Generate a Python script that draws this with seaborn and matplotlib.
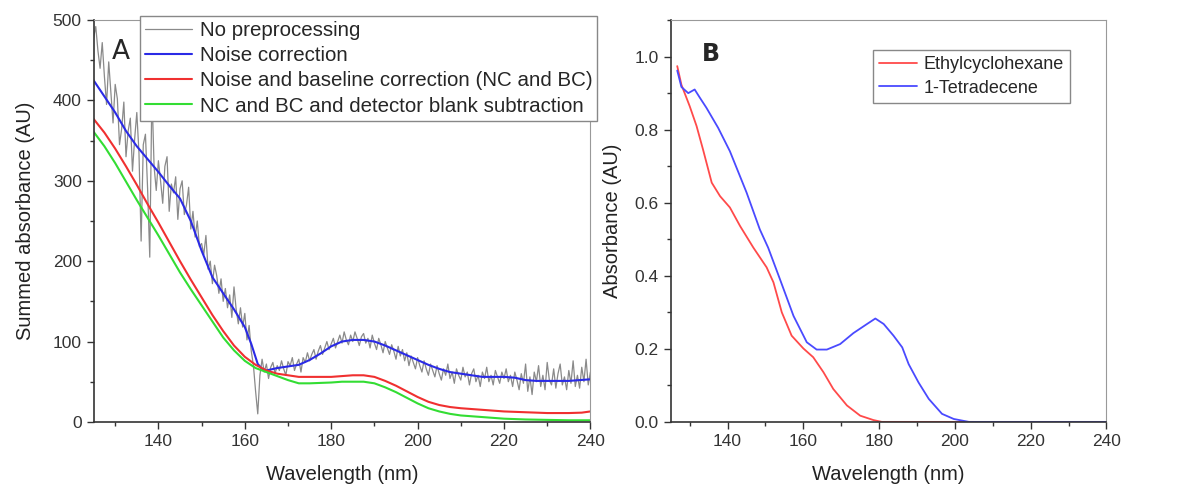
import numpy as np
import pandas as pd
import matplotlib
matplotlib.use("Agg")
import matplotlib.pyplot as plt
import seaborn as sns
from matplotlib.ticker import MultipleLocator, FormatStrFormatter

sns.set_style("ticks")
plt.rcParams["font.family"] = ["Liberation Sans", "DejaVu Sans"]

# ------------------------------------------
# PANEL A DATA
# ------------------------------------------

# raw spectrum, every 0.5 nm from 125 to 240
raw_wl = np.arange(125, 240.01, 0.5)
raw_abs = [
    # 125.0 - 150.0
    478, 492, 462, 440, 472, 430, 395, 448, 410, 372,
    420, 402, 345, 365, 398, 330, 362, 378, 312, 352,
    385, 335, 225, 345, 358, 290, 205, 412, 318, 288,
    325, 300, 272, 318, 330, 262, 296, 285, 305, 252,
    290, 300, 258, 270, 292, 240, 262, 230, 250, 218,
    222,
    # 150.5 - 162.5
    208, 232, 190, 200, 172, 195, 182, 160, 178, 150,
    166, 142, 158, 130, 168, 140, 122, 142, 118, 135,
    102, 120, 88, 70, 38,
    # 163.0 - 175.0
    10, 58, 78, 62, 72, 54, 68, 74, 60, 70,
    64, 76, 66, 58, 75, 70, 80, 64, 72, 78,
    62, 80, 74, 86, 76,
    # 175.5 - 200.0
    84, 90, 78, 88, 95, 84, 92, 100, 90, 97,
    104, 92, 100, 108, 98, 112, 102, 96, 108, 100,
    112, 104, 95, 106, 110, 98, 104, 92, 108, 98,
    90, 104, 96, 86, 100, 92, 84, 96, 88, 78,
    94, 82, 90, 76, 86, 70, 82, 74, 66, 80,
    # 200.5 - 240.0
    70, 62, 76, 66, 58, 72, 64, 56, 70, 60,
    52, 66, 58, 72, 54, 62, 48, 66, 58, 52,
    68, 56, 62, 46, 60, 66, 50, 58, 44, 62,
    54, 68, 50, 58, 46, 64, 56, 48, 62, 54,
    66, 50, 58, 44, 62, 52, 40, 60, 48, 72,
    38, 56, 34, 62, 50, 70, 44, 58, 40, 74,
    52, 46, 66, 42, 60, 72, 46, 56, 40, 64,
    48, 76, 44, 58, 42, 68, 50, 78, 46, 62,
]

nc_wl = [125, 127.5, 130, 132.5, 135, 137.5, 140, 142.5, 145, 147.5,
         150, 152.5, 155, 157.5, 160, 161.5, 163, 164, 165, 167.5,
         170, 172.5, 175, 177.5, 180, 182.5, 185, 187.5, 190, 192.5,
         195, 197.5, 200, 202.5, 205, 207.5, 210, 212.5, 215, 217.5,
         220, 222.5, 225, 227.5, 230, 235, 240]
nc_abs = [425, 405, 385, 362, 343, 327, 311, 294, 278, 250,
          213, 180, 160, 140, 118, 97, 72, 66, 64, 67,
          69, 71, 77, 85, 94, 100, 102, 102, 100, 95,
          89, 83, 77, 71, 66, 62, 60, 58, 56, 56,
          56, 55, 52, 51, 51, 51, 53]

bc_wl = [125, 127.5, 130, 132.5, 135, 137.5, 140, 142.5, 145, 147.5,
         150, 152.5, 155, 157.5, 160, 162.5, 165, 167.5, 170, 172.5,
         175, 177.5, 180, 182.5, 185, 187.5, 190, 192.5, 195, 197.5,
         200, 202.5, 205, 207.5, 210, 215, 220, 225, 230, 235,
         238, 240]
bc_abs = [377, 360, 340, 318, 295, 271, 248, 224, 200, 177,
          155, 133, 113, 95, 81, 71, 64, 60, 58, 56,
          56, 56, 56, 57, 58, 58, 56, 51, 45, 38,
          31, 25, 21, 18.5, 17, 15, 13, 12, 11, 11,
          11.5, 13]

blank_wl = [125, 127.5, 130, 132.5, 135, 137.5, 140, 142.5, 145, 147.5,
            150, 152.5, 155, 157.5, 160, 162.5, 165, 167.5, 170, 172.5,
            175, 177.5, 180, 182.5, 185, 187.5, 190, 192.5, 195, 197.5,
            200, 202.5, 205, 207.5, 210, 215, 220, 225, 230, 235,
            240]
blank_abs = [361, 343, 322, 299, 276, 254, 232, 209, 186, 165,
             145, 125, 105, 89, 76, 67, 62, 57, 52, 48,
             48, 48.5, 49, 50, 50, 50, 48, 43, 37, 30,
             23, 17, 13, 10, 8, 6, 4, 3, 2.5, 2,
             2]

# ------------------------------------------
# PANEL B DATA
# ------------------------------------------

ech_wl = [126.7, 127.8, 130.0, 131.8, 133.5, 135.8, 138.0, 140.6, 143.3, 146.8,
          150.3, 152.1, 154.3, 156.9, 160.0, 162.6, 165.3, 167.9, 171.5, 175.0,
          178.5, 180.7, 205.0]
ech_abs = [0.974, 0.923, 0.864, 0.81, 0.746, 0.655, 0.618, 0.587, 0.536, 0.477,
           0.423, 0.382, 0.30, 0.236, 0.201, 0.177, 0.136, 0.09, 0.045, 0.017,
           0.005, 0.0, 0.0]

tdc_wl = [126.7, 127.8, 129.6, 131.3, 132.7, 134.4, 137.5, 140.6, 145.0, 148.5,
          150.7, 153.8, 157.4, 160.9, 163.5, 166.2, 169.7, 173.2, 176.8, 179.0,
          181.2, 183.8, 186.1, 187.8, 190.4, 193.1, 196.6, 199.7, 203.7, 240.0]
tdc_abs = [0.962, 0.917, 0.90, 0.91, 0.887, 0.86, 0.805, 0.741, 0.628, 0.527,
           0.477, 0.391, 0.29, 0.218, 0.198, 0.198, 0.213, 0.243, 0.268, 0.283,
           0.268, 0.236, 0.204, 0.158, 0.108, 0.063, 0.022, 0.008, 0.0, 0.0]

# ------------------------------------------
# PLOT
# ------------------------------------------

fig = plt.figure(figsize=(12, 4.9), dpi=100)
ax1 = fig.add_axes([0.078, 0.139, 0.414, 0.82])
ax2 = fig.add_axes([0.559, 0.139, 0.363, 0.82])

sns.lineplot(x=raw_wl, y=raw_abs, ax=ax1, color="#8a8a8a", lw=0.9,
             label="No preprocessing", sort=False, estimator=None)
sns.lineplot(x=nc_wl, y=nc_abs, ax=ax1, color="#2a2ae6", lw=1.5,
             label="Noise correction", sort=False, estimator=None)
sns.lineplot(x=bc_wl, y=bc_abs, ax=ax1, color="#f03030", lw=1.5,
             label="Noise and baseline correction (NC and BC)", sort=False, estimator=None)
sns.lineplot(x=blank_wl, y=blank_abs, ax=ax1, color="#33dd33", lw=1.5,
             label="NC and BC and detector blank subtraction", sort=False, estimator=None)

sns.lineplot(x=ech_wl, y=ech_abs, ax=ax2, color="#ff4a4a", lw=1.3,
             label="Ethylcyclohexane", sort=False, estimator=None)
sns.lineplot(x=tdc_wl, y=tdc_abs, ax=ax2, color="#4a4aff", lw=1.3,
             label="1-Tetradecene", sort=False, estimator=None)

for ax in (ax1, ax2):
    ax.set_xlim(125, 240)
    ax.set_xticks([140, 160, 180, 200, 220, 240])
    ax.xaxis.set_minor_locator(MultipleLocator(10))
    ax.tick_params(which="major", direction="out", length=5, width=1,
                   labelsize=12.5, colors="#333333")
    ax.tick_params(which="minor", direction="out", length=3, width=1, colors="#333333")
    ax.set_xlabel("Wavelength (nm)", fontsize=14.5, color="#222222", labelpad=12)
    for s in ("left", "bottom"):
        ax.spines[s].set_color("#333333")
        ax.spines[s].set_linewidth(1.2)
    for s in ("top", "right"):
        ax.spines[s].set_visible(True)
        ax.spines[s].set_color("#999999")
        ax.spines[s].set_linewidth(0.8)

ax1.set_ylim(0, 500)
ax1.yaxis.set_major_locator(MultipleLocator(100))
ax1.yaxis.set_minor_locator(MultipleLocator(50))
ax1.set_ylabel("Summed absorbance (AU)", fontsize=14.5, color="#222222", labelpad=13)

ax2.set_ylim(0, 1.1)
ax2.set_yticks([0.0, 0.2, 0.4, 0.6, 0.8, 1.0])
ax2.yaxis.set_minor_locator(MultipleLocator(0.1))
ax2.yaxis.set_major_formatter(FormatStrFormatter("%.1f"))
ax2.set_ylabel("Absorbance (AU)", fontsize=14.5, color="#222222", labelpad=9)

ax1.text(0.036, 0.92, "A", transform=ax1.transAxes, fontsize=19,
         family="DejaVu Sans", va="center", ha="left")
ax2.text(0.071, 0.915, "B", transform=ax2.transAxes, fontsize=17,
         family="DejaVu Sans Condensed", weight="bold", va="center", ha="left")

leg1 = ax1.legend(loc="upper left", bbox_to_anchor=(140 / 1200, 1 - 16 / 490),
                  bbox_transform=fig.transFigure, fontsize=14.8, frameon=True,
                  fancybox=False, edgecolor="#888888", framealpha=1,
                  handlelength=2.3, labelspacing=0.3, borderpad=0.25,
                  handletextpad=0.35, borderaxespad=0)
leg2 = ax2.legend(loc="upper left", bbox_to_anchor=(873 / 1200, 1 - 50 / 490),
                  bbox_transform=fig.transFigure, fontsize=13, frameon=True,
                  fancybox=False, edgecolor="#888888", framealpha=1,
                  handlelength=2.1, labelspacing=0.35, borderpad=0.35,
                  handletextpad=0.35, borderaxespad=0)
for leg in (leg1, leg2):
    leg.get_frame().set_linewidth(1.0)

fig.savefig("out.png", dpi=100)
